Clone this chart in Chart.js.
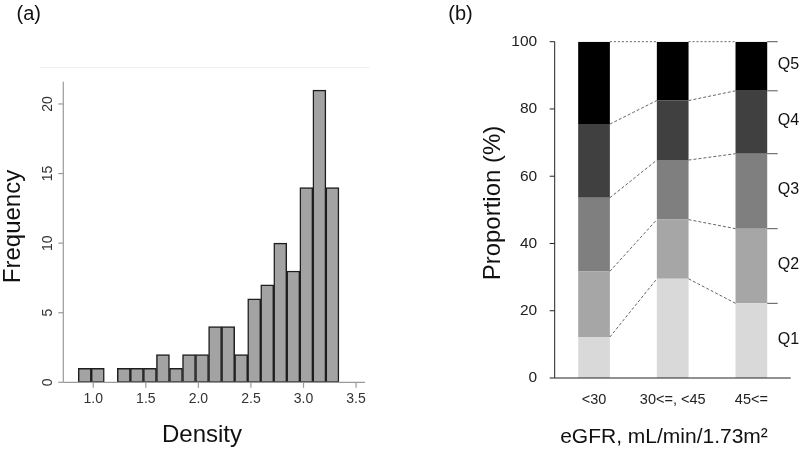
<!DOCTYPE html>
<html>
<head>
<meta charset="utf-8">
<script src="https://cdn.jsdelivr.net/npm/chart.js@4.4.1/dist/chart.umd.min.js"></script>
<style>
  html, body { margin: 0; padding: 0; background: #ffffff; }
  #wrap { position: relative; width: 800px; height: 449px; overflow: hidden; background: #fff; }
  canvas { position: absolute; top: 0; }
  #ca { left: 0; }
  #cb { left: 400px; }
</style>
</head>
<body>
<div id="wrap">
  <canvas id="ca" width="400" height="449"></canvas>
  <canvas id="cb" width="400" height="449"></canvas>
</div>
<script>
// ---------------- DATA ----------------
// Panel (a): histogram
const histBinCenters = [0.919, 1.043, 1.167, 1.291, 1.415, 1.539, 1.663, 1.787, 1.911, 2.035,
                        2.159, 2.283, 2.407, 2.531, 2.655, 2.779, 2.903, 3.027, 3.151, 3.275];
const histCounts     = [1, 1, 0, 1, 1, 1, 2, 1, 2, 2, 4, 4, 2, 6, 7, 10, 8, 14, 21, 14];
const histXTicks     = [1.0, 1.5, 2.0, 2.5, 3.0, 3.5];
const histYTicks     = [0, 5, 10, 15, 20];
const histXTitle     = 'Density';
const histYTitle     = 'Frequency';
const panelALabel    = '(a)';

// Panel (b): stacked proportions
const egfrCategories = ['<30', '30<=, <45', '45<='];
const quintileLabels = ['Q1', 'Q2', 'Q3', 'Q4', 'Q5'];
const q1Values = [12.2, 29.5, 22.2];
const q2Values = [19.5, 17.6, 22.2];
const q3Values = [21.9, 17.7, 22.3];
const q4Values = [21.9, 17.7, 18.7];
const q5Values = [24.5, 17.5, 14.6];
const propYTicks = [0, 20, 40, 60, 80, 100];
const propXTitle = 'eGFR, mL/min/1.73m\u00B2';
const propYTitle = 'Proportion (%)';
const panelBLabel = '(b)';

// ---------------- HELPERS ----------------
const FONT = '"Liberation Sans", Arial, Helvetica, sans-serif';
function drawText(ctx, s, x, y, o) {
  ctx.save();
  ctx.font = (o.size || 12) + 'px ' + FONT;
  ctx.fillStyle = o.color || '#000';
  ctx.textAlign = o.align || 'center';
  ctx.textBaseline = o.baseline || 'middle';
  ctx.translate(x, y);
  if (o.rot) ctx.rotate(o.rot);
  if (o.sx) ctx.scale(o.sx, 1);
  ctx.fillText(s, 0, 0);
  ctx.restore();
}
function line(ctx, x1, y1, x2, y2, color, w, dash) {
  ctx.save();
  ctx.strokeStyle = color;
  ctx.lineWidth = w;
  ctx.setLineDash(dash || []);
  ctx.beginPath();
  ctx.moveTo(x1, y1);
  ctx.lineTo(x2, y2);
  ctx.stroke();
  ctx.restore();
}

// ---------------- PANEL (a) ----------------
const histAxesPlugin = {
  id: 'histAxes',
  afterDraw(chart) {
    const ctx = chart.ctx;
    const xs = chart.scales.x, ys = chart.scales.y;
    const a = chart.chartArea;
    const axisCol = '#9a9a9a';
    line(ctx, 40, 67.5, 370, 67.5, '#f1f1f1', 1);
    line(ctx, a.left, a.top, a.left, a.bottom, axisCol, 1.2);
    line(ctx, a.left, a.bottom, a.right, a.bottom, axisCol, 1.2);
    histYTicks.forEach(v => {
      const y = ys.getPixelForValue(v);
      line(ctx, a.left - 5, y, a.left, y, axisCol, 1.2);
      drawText(ctx, String(v), a.left - 15.5, y, {size: 14, color: '#333', rot: -Math.PI / 2});
    });
    histXTicks.forEach(v => {
      const x = xs.getPixelForValue(v);
      line(ctx, x, a.bottom, x, a.bottom + 5.5, axisCol, 1.2);
      drawText(ctx, v.toFixed(1), x, a.bottom + 16.5, {size: 14, color: '#333'});
    });
    drawText(ctx, histXTitle, 202, 442, {size: 24, color: '#111', baseline: 'alphabetic'});
    drawText(ctx, histYTitle, 20, 226.5, {size: 24, color: '#111', baseline: 'alphabetic', rot: -Math.PI / 2});
    drawText(ctx, panelALabel, 16.5, 14, {size: 20, color: '#111', align: 'left'});
  }
};

new Chart(document.getElementById('ca'), {
  type: 'bar',
  data: {
    datasets: [{
      label: 'Frequency',
      data: histBinCenters.map((c, i) => ({x: c, y: histCounts[i] > 0 ? histCounts[i] : null})),
      backgroundColor: '#a3a3a3',
      borderColor: '#1e1e1e',
      borderWidth: 1.5,
      borderSkipped: false,
      categoryPercentage: 1.0,
      barPercentage: 1.0
    }]
  },
  options: {
    responsive: false,
    devicePixelRatio: 1,
    animation: false,
    layout: {padding: {left: 63.3, right: 35, top: 81.7, bottom: 66.7}},
    plugins: {legend: {display: false}, tooltip: {enabled: false}},
    scales: {
      x: {type: 'linear', offset: false, min: 0.715, max: 3.585, display: false},
      y: {type: 'linear', min: 0, max: 21.6, display: false}
    }
  },
  plugins: [histAxesPlugin]
});

// ---------------- PANEL (b) ----------------
const propPlugin = {
  id: 'propDecor',
  afterDatasetsDraw(chart) {
    const ctx = chart.ctx;
    const xs = chart.scales.x, ys = chart.scales.y;
    const a = chart.chartArea;
    const nCat = egfrCategories.length;
    for (let d = 0; d < quintileLabels.length; d++) {
      const meta = chart.getDatasetMeta(d);
      for (let i = 0; i < nCat - 1; i++) {
        const b0 = meta.data[i], b1 = meta.data[i + 1];
        const x0 = b0.x + b0.width / 2, x1 = b1.x - b1.width / 2;
        const dash = d === quintileLabels.length - 1 ? [2, 2] : [3, 2];
        line(ctx, x0, b0.y, x1, b1.y, '#555', 0.9, dash);
      }
      const bl = meta.data[nCat - 1];
      const xr = bl.x + bl.width / 2;
      line(ctx, xr, bl.y, xr + 10.5, bl.y, '#555', 1);
      drawText(ctx, quintileLabels[d], xr + 10.5, (bl.y + bl.base) / 2 - 1.5, {size: 16, color: '#111', align: 'left'});
    }
    line(ctx, a.left, a.top, a.left, a.bottom, '#222', 1);
    line(ctx, a.left, a.bottom, a.right, a.bottom, '#222', 1);
    propYTicks.forEach(v => {
      const y = ys.getPixelForValue(v);
      line(ctx, a.left - 5, y, a.left, y, '#222', 1);
      drawText(ctx, String(v), a.left - 17.5, y, {size: 15.5, color: '#222', align: 'right'});
    });
    egfrCategories.forEach((c, i) => {
      drawText(ctx, c, xs.getPixelForValue(i), 400, {size: 14.5, color: '#222'});
    });
    drawText(ctx, propXTitle, 264, 443.3, {size: 21, color: '#111', baseline: 'alphabetic'});
    drawText(ctx, propYTitle, 100, 203, {size: 24, color: '#111', baseline: 'alphabetic', rot: -Math.PI / 2});
    drawText(ctx, panelBLabel, 48.3, 14, {size: 20, color: '#111', align: 'left'});
  }
};

const quintileColors = ['#d9d9d9', '#a6a6a6', '#7f7f7f', '#404040', '#000000'];
const quintileValues = [q1Values, q2Values, q3Values, q4Values, q5Values];

new Chart(document.getElementById('cb'), {
  type: 'bar',
  data: {
    labels: egfrCategories,
    datasets: quintileLabels.map((q, d) => ({
      label: q,
      data: quintileValues[d],
      backgroundColor: quintileColors[d],
      borderWidth: 0,
      categoryPercentage: 1.0,
      barPercentage: 0.403
    }))
  },
  options: {
    responsive: false,
    devicePixelRatio: 1,
    animation: false,
    layout: {padding: {left: 154.7, right: 9.3, top: 41.7, bottom: 71}},
    plugins: {legend: {display: false}, tooltip: {enabled: false}},
    scales: {
      x: {type: 'category', stacked: true, offset: true, display: false},
      y: {stacked: true, min: 0, max: 100, display: false}
    }
  },
  plugins: [propPlugin]
});
</script>
</body>
</html>
